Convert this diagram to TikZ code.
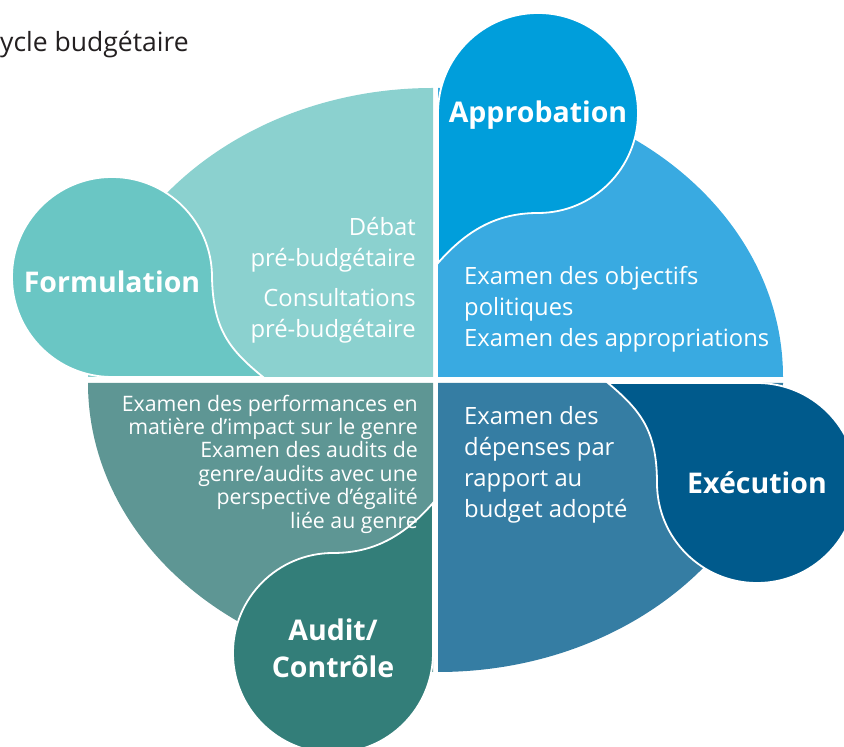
\documentclass[tikz,border=0pt]{standalone}
\usepackage{fontspec}
\setmainfont{Open Sans}
\usepackage{color}
\usepackage{tikz}

\definecolor{formlight}{HTML}{8BD1CF}
\definecolor{formdark}{HTML}{6AC6C4}
\definecolor{approlight}{HTML}{39AAE1}
\definecolor{approdark}{HTML}{009EDB}
\definecolor{execlight}{HTML}{357DA3}
\definecolor{execdark}{HTML}{005A8C}
\definecolor{auditlight}{HTML}{5E9694}
\definecolor{auditdark}{HTML}{337E79}
\definecolor{titlegray}{HTML}{231F20}

\begin{document}
\begin{tikzpicture}[x=1pt, y=1pt,
    blob/.style={draw=white, line width=1.8pt},
    heading/.style={text=white, inner sep=0pt, align=center,
      font=\fontsize{28.5}{37}\selectfont\bfseries},
    body/.style={text=white, inner sep=0pt, font=\fontsize{23.8}{31}\selectfont}]
  \useasboundingbox (0,0) rectangle (844,747);
  \begin{scope}
    \clip (0,0) rectangle (844,747);
    % the four quarters
    \fill [formlight] (433,370) -- (433,659) arc [start angle=90, end angle=180, x radius=345, y radius=289] -- cycle;
    \fill [approlight] (438,370) -- (783,370) arc [start angle=0, end angle=90, x radius=345, y radius=289] -- cycle;
    \fill [execlight] (438,364) -- (438,75) arc [start angle=270, end angle=360, x radius=345, y radius=289] -- cycle;
    \fill [auditlight] (433,364) -- (88,364) arc [start angle=180, end angle=270, x radius=345, y radius=289] -- cycle;
    % the four drops
    \filldraw [blob, fill=formdark] (112,370) -- (263,370) .. controls (230,397) and (213,417) .. (212,470)
      arc [start angle=0, end angle=270, radius=100] -- cycle;
    \filldraw [blob, fill=approdark] (438,634) -- (438,484) .. controls (467,517) and (497,534) .. (538,534)
      arc [start angle=270, end angle=540, radius=100] -- cycle;
    \filldraw [blob, fill=execdark] (757,364) -- (608,364) .. controls (640,337) and (657,317) .. (657,264)
      arc [start angle=180, end angle=450, radius=100] -- cycle;
    \filldraw [blob, fill=auditdark] (433,94) -- (433,244) .. controls (404,211) and (374,194) .. (333,194)
      arc [start angle=90, end angle=360, radius=100] -- cycle;
  \end{scope}

  \node (t) at (0,695) [anchor=base west, inner sep=0pt, text=titlegray, font=\fontsize{26.5}{30}\selectfont] {ycle budgétaire};

  \node (fo) at (112,465) [heading] {Formulation};
  \node (ap) at (538,632) [heading] {Approbation};
  \node (ex) at (757,264) [heading] {Exécution};
  \node (au) at (333,99) [heading] {Audit/\\Contrôle};

  \node (fot) at (416,467) [body, anchor=east, align=right] {Débat\\pré-budgétaire\\[9pt]Consultations\\pré-budgétaire};
  \node (apt) at (464,438) [body, anchor=west, align=left] {Examen des objectifs\\politiques\\Examen des appropriations};
  \node (ext) at (464,282) [body, anchor=west, align=left] {Examen des\\dépenses par\\rapport au\\budget adopté};
  \node (aut) at (418,283) [body, anchor=east, align=right, font=\fontsize{21.3}{23.4}\selectfont]
    {Examen des performances en\\matière d’impact sur le genre\\Examen des audits de\\genre/audits avec une\\perspective d’égalité\\liée au genre\hspace{22pt}};
\end{tikzpicture}
\end{document}
